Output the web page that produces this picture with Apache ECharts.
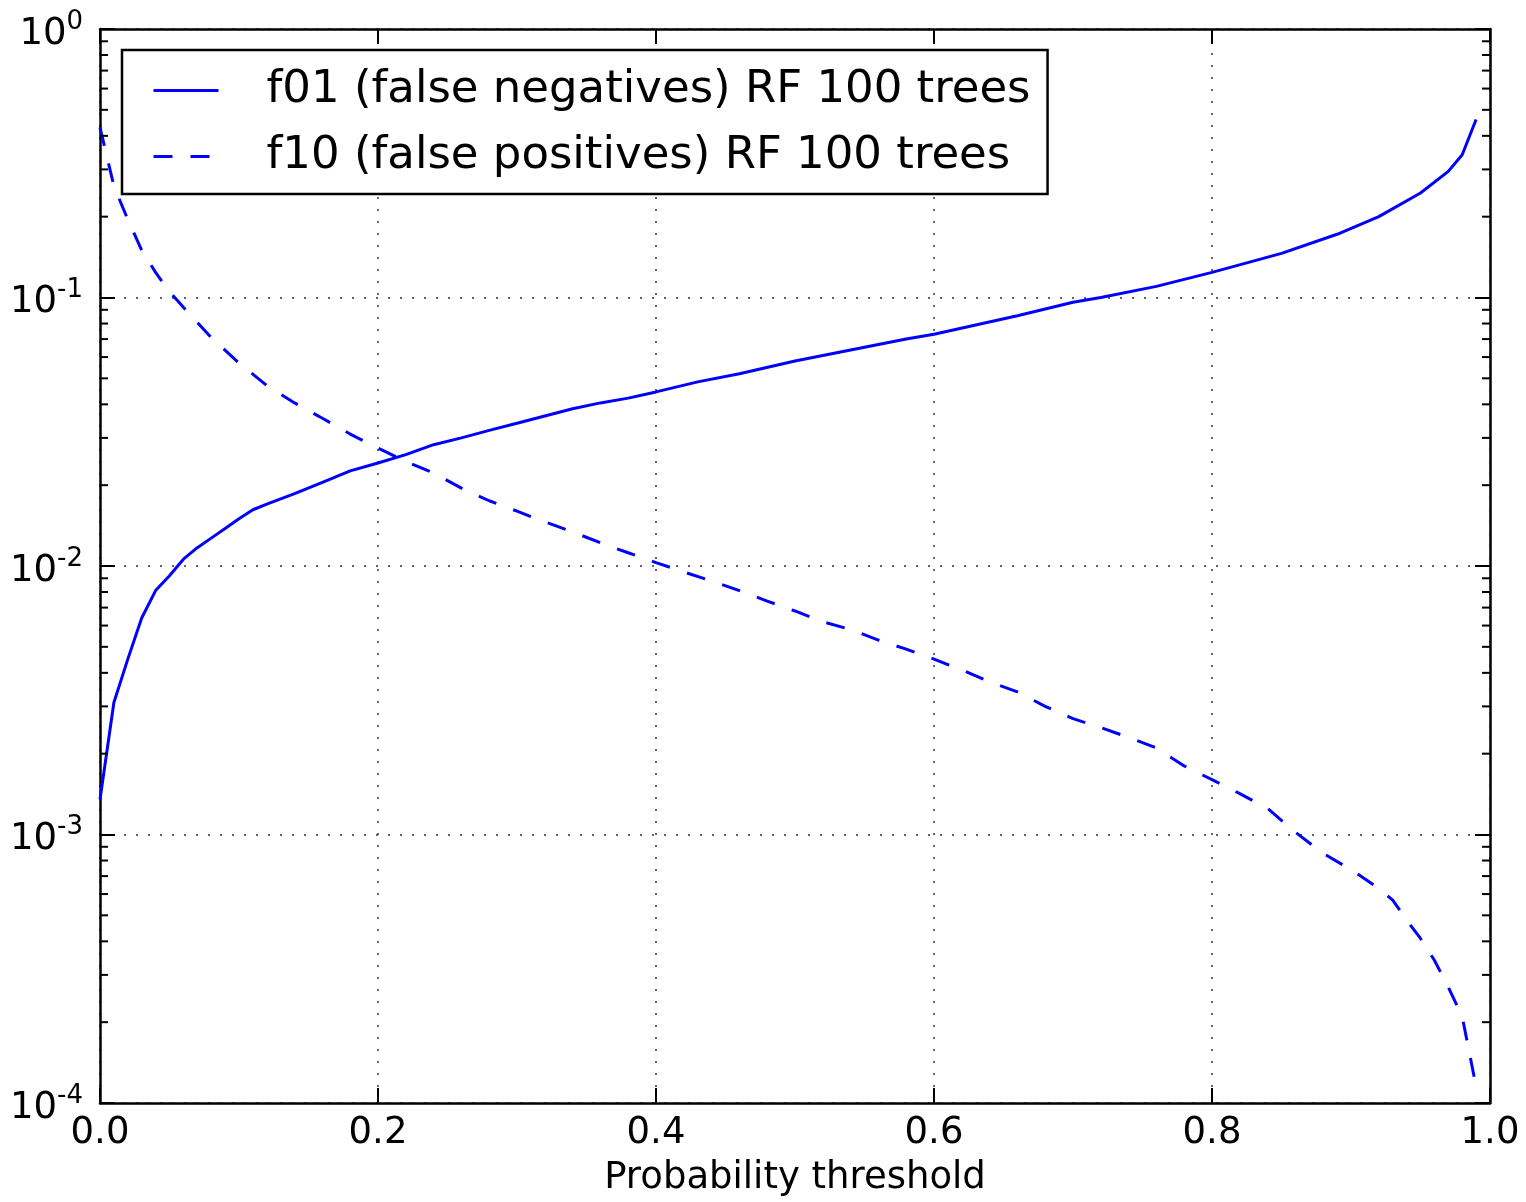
<!DOCTYPE html>
<html><head><meta charset="utf-8">
<script src="https://cdn.jsdelivr.net/npm/echarts@6/dist/echarts.min.js"></script>
<style>html,body{margin:0;padding:0;background:#fff}#c{width:1526px;height:1202px}</style>
</head><body><div id="c"></div><script>
const FONT = 'DejaVu Sans';
const seriesNames = ['f01 (false negatives) RF 100 trees', 'f10 (false positives) RF 100 trees'];
const xAxisName = 'Probability threshold';

const f01X = [0.00,0.01,0.02,0.03,0.04,0.05,0.06,0.07,0.08,0.09,0.10,0.11,0.12,0.14,0.16,0.18,0.20,0.22,0.24,0.26,0.28,0.30,0.32,0.34,0.36,0.38,0.40,0.43,0.46,0.50,0.54,0.58,0.60,0.63,0.66,0.70,0.72,0.76,0.80,0.85,0.89,0.92,0.95,0.97,0.98,0.99];
const f01Y = [1.35e-3,3.1e-3,4.5e-3,6.4e-3,8.1e-3,9.2e-3,1.06e-2,1.17e-2,1.27e-2,1.38e-2,1.50e-2,1.62e-2,1.70e-2,1.86e-2,2.05e-2,2.26e-2,2.42e-2,2.60e-2,2.83e-2,3.0e-2,3.2e-2,3.4e-2,3.62e-2,3.85e-2,4.05e-2,4.22e-2,4.45e-2,4.85e-2,5.2e-2,5.8e-2,6.37e-2,7.0e-2,7.3e-2,7.9e-2,8.55e-2,9.6e-2,1.0e-1,1.1e-1,1.24e-1,1.46e-1,1.72e-1,2.0e-1,2.45e-1,2.95e-1,3.4e-1,4.6e-1];

const f10X = [0.00,0.01,0.02,0.03,0.04,0.05,0.06,0.08,0.10,0.12,0.14,0.16,0.18,0.20,0.22,0.24,0.26,0.28,0.30,0.32,0.34,0.36,0.38,0.40,0.42,0.44,0.46,0.48,0.50,0.52,0.54,0.56,0.58,0.60,0.62,0.64,0.66,0.68,0.70,0.72,0.74,0.76,0.78,0.80,0.82,0.84,0.86,0.88,0.90,0.92,0.93,0.94,0.95,0.96,0.97,0.98,0.99];
const f10Y = [0.43,0.26,0.195,0.150,0.124,0.105,0.092,0.071,0.057,0.047,0.0405,0.0355,0.031,0.0275,0.0245,0.0222,0.0195,0.0175,0.016,0.0146,0.0134,0.0122,0.0112,0.0103,0.0095,0.0088,0.0081,0.0074,0.0068,0.0062,0.0058,0.0053,0.0049,0.0045,0.0041,0.0037,0.0034,0.0030,0.0027,0.0025,0.0023,0.0021,0.0018,0.0016,0.00142,0.00125,0.00102,0.00085,0.00074,0.00063,0.00057,0.00048,0.00041,0.00034,0.00027,0.00021,0.000115];

const yMin = 1e-4, yMax = 1;
const xMin = 0, xMax = 1, xStep = 0.2;

// minor tick values for the log axis (2..9 x 10^n)
const minorVals = [];
for (let e = -4; e < 0; e++) for (let k = 2; k <= 9; k++) minorVals.push(k * Math.pow(10, e));

const zip = (xs, ys) => xs.map((x, i) => [x, ys[i]]);
const gridLine = { show: true, lineStyle: { color: '#333', width: 1.5, type: [2, 10] } };
const axisLine = { show: true, onZero: false, lineStyle: { color: '#000', width: 2.5 } };
const axisTick = { show: true, inside: true, length: 15, lineStyle: { color: '#000', width: 2 } };

const chart = echarts.init(document.getElementById('c'), null, { renderer: 'canvas' });
chart.setOption({
  animation: false,
  backgroundColor: '#fff',
  grid: { left: 100, top: 29, width: 1390, height: 1074 },
  xAxis: [
    { type: 'value', min: xMin, max: xMax, interval: xStep, position: 'bottom',
      axisLine, axisTick,
      axisLabel: { margin: 12, fontSize: 37, color: '#000', fontFamily: FONT, formatter: v => v.toFixed(1) },
      splitLine: gridLine,
      name: xAxisName, nameLocation: 'middle', nameGap: 57,
      nameTextStyle: { fontSize: 37, color: '#000', fontFamily: FONT } },
    { type: 'value', min: xMin, max: xMax, interval: xStep, position: 'top',
      axisLine, axisTick, axisLabel: { show: false }, splitLine: { show: false } }
  ],
  yAxis: [
    { type: 'log', logBase: 10, min: yMin, max: yMax, splitNumber: 4, position: 'left',
      axisLine, axisTick,
      axisLabel: { margin: 17, color: '#000', fontFamily: FONT,
        formatter: v => '{b|10}{s|' + Math.round(Math.log10(v)) + '}',
        rich: {
          b: { fontSize: 37, lineHeight: 37, padding: [10, 0, 0, 0], fontFamily: FONT, color: '#000' },
          s: { fontSize: 26, lineHeight: 26, padding: [0, 0, 14, 0], fontFamily: FONT, color: '#000' }
        } },
      splitLine: gridLine },
    { type: 'log', logBase: 10, min: yMin, max: yMax, splitNumber: 4, position: 'right',
      axisLine, axisTick, axisLabel: { show: false }, splitLine: { show: false } }
  ],
  legend: {
    data: seriesNames, orient: 'vertical', left: 122, top: 50,
    padding: [18, 17, 15, 30], itemWidth: 65, itemHeight: 52, itemGap: 21,
    borderColor: '#000', borderWidth: 2.5, backgroundColor: '#fff', selectedMode: false,
    itemStyle: { opacity: 0 },
    lineStyle: { width: 3 },
    formatter: n => '{g|}{t|' + n + '}',
    textStyle: { fontSize: 45, fontFamily: FONT, color: '#000',
      rich: { g: { width: 43 }, t: { fontSize: 45, lineHeight: 52, fontFamily: FONT, color: '#000' } } }
  },
  series: [
    { name: seriesNames[0], type: 'line', xAxisIndex: 0, yAxisIndex: 0, symbol: 'none', showSymbol: false,
      lineStyle: { color: '#0000ff', width: 3 }, itemStyle: { color: '#0000ff' },
      data: zip(f01X, f01Y) },
    { name: seriesNames[1], type: 'line', xAxisIndex: 0, yAxisIndex: 0, symbol: 'none', showSymbol: false,
      lineStyle: { color: '#0000ff', width: 3, type: [19, 18] }, itemStyle: { color: '#0000ff' },
      data: zip(f10X, f10Y) },
    { type: 'custom', xAxisIndex: 0, yAxisIndex: 0, silent: true, clip: false, z: 5,
      data: minorVals.map(v => [0, v]),
      renderItem: (params, api) => {
        const v = api.value(1);
        const p = api.coord([xMin, v]);
        const q = api.coord([xMax, v]);
        const st = { stroke: '#000', lineWidth: 2 };
        return { type: 'group', children: [
          { type: 'line', shape: { x1: p[0], y1: p[1], x2: p[0] + 8, y2: p[1] }, style: st },
          { type: 'line', shape: { x1: q[0] - 8, y1: q[1], x2: q[0], y2: q[1] }, style: st }
        ] };
      } }
  ]
});
</script></body></html>
